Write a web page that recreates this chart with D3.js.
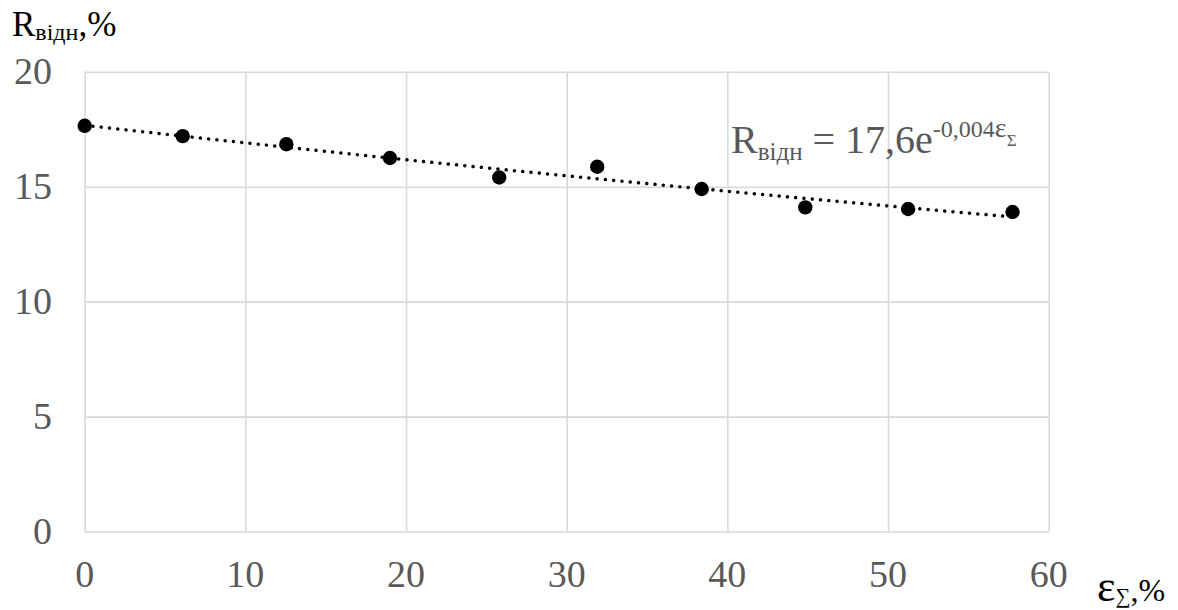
<!DOCTYPE html>
<html><head><meta charset="utf-8">
<script src="https://cdn.jsdelivr.net/npm/d3@7"></script>
<style>body{margin:0;background:#fff}svg{display:block}</style>
</head><body><svg id="c" width="1178" height="610" font-family="'Liberation Serif', 'Times New Roman', 'DejaVu Serif', serif"></svg>
<script>
const strainX = [0, 6.1, 12.55, 19.0, 25.8, 31.9, 38.4, 44.85, 51.25, 57.75];
const rValues = [17.65, 17.2, 16.85, 16.25, 15.4, 15.87, 14.9, 14.1, 14.03, 13.9];
const xTicks = [0, 10, 20, 30, 40, 50, 60];
const yTicks = [0, 5, 10, 15, 20];

const FONT = "'Liberation Serif', 'Times New Roman', 'DejaVu Serif', serif";
const svg = d3.select("#c");
const L = 84.7, R = 1048.7, T = 71.8, B = 531.5;
const x = d3.scaleLinear().domain([0, 60]).range([L, R]);
const y = d3.scaleLinear().domain([0, 20]).range([B, T]);
const grid = "#d9d9d9", lab = "#595959";

// gridlines
svg.append("g").attr("transform", `translate(0,${B})`)
  .call(d3.axisBottom(x).tickValues(xTicks).tickSize(-(B - T)).tickFormat(""))
  .call(g => g.select(".domain").remove())
  .call(g => g.selectAll("line").attr("stroke", grid).attr("stroke-width", 1.6));
svg.append("g").attr("transform", `translate(${L},0)`)
  .call(d3.axisLeft(y).tickValues(yTicks).tickSize(-(R - L)).tickFormat(""))
  .call(g => g.select(".domain").remove())
  .call(g => g.selectAll("line").attr("stroke", grid).attr("stroke-width", 1.6));

// tick labels
svg.append("g").selectAll("text").data(xTicks).join("text")
  .attr("font-family", FONT)
  .attr("x", d => x(d)).attr("y", 587).attr("text-anchor", "middle")
  .attr("font-size", 38).attr("fill", lab).text(d => d);
svg.append("g").selectAll("text").data(yTicks).join("text")
  .attr("font-family", FONT)
  .attr("x", 52).attr("y", d => y(d) + 12.5).attr("text-anchor", "end")
  .attr("font-size", 38).attr("fill", lab).text(d => d);

// exponential trend fit (least squares on ln y)
const n = strainX.length;
const ly = rValues.map(Math.log);
const mx = d3.mean(strainX), my = d3.mean(ly);
const b = d3.sum(strainX.map((v, i) => (v - mx) * (ly[i] - my))) / d3.sum(strainX.map(v => (v - mx) ** 2));
const a = Math.exp(my - b * mx);
const xs = d3.range(0, 200).map(i => strainX[0] + (strainX[n - 1] - strainX[0]) * i / 199);
svg.append("path")
  .attr("d", d3.line().x(d => x(d)).y(d => y(a * Math.exp(b * d)))(xs))
  .attr("fill", "none").attr("stroke", "#000").attr("stroke-width", 3.5)
  .attr("stroke-linecap", "round").attr("stroke-dasharray", "0.01 8.3");

// points
svg.append("g").selectAll("circle").data(strainX).join("circle")
  .attr("cx", d => x(d)).attr("cy", (d, i) => y(rValues[i])).attr("r", 7.2).attr("fill", "#000");

// y axis title
const yt = svg.append("text").attr("font-family", FONT).attr("x", 12).attr("y", 36).attr("fill", "#000");
yt.append("tspan").attr("font-size", 35).text("R");
yt.append("tspan").attr("font-size", 24).attr("dy", 4).text("відн");
yt.append("tspan").attr("font-size", 35).attr("dy", -4).text(",%");

// x axis title
const xt = svg.append("text").attr("font-family", FONT).attr("x", 1097).attr("y", 601).attr("fill", "#000");
xt.append("tspan").attr("font-size", 44).text("ε");
xt.append("tspan").attr("font-size", 21).attr("dy", 2).text("∑");
xt.append("tspan").attr("font-size", 32).attr("dy", -2).text(",%");

// equation
const eq = svg.append("text").attr("font-family", FONT).attr("x", 731).attr("y", 153).attr("fill", lab);
eq.append("tspan").attr("font-size", 40).text("R");
eq.append("tspan").attr("font-size", 25).attr("dy", 7).text("відн");
eq.append("tspan").attr("font-size", 40).attr("dy", -7).text(" = 17,6e");
eq.append("tspan").attr("font-size", 24).attr("dy", -16).text("-0,004");
eq.append("tspan").attr("font-size", 28).text("ε");
eq.append("tspan").attr("font-size", 17).attr("dy", 9).text("Σ");
</script></body></html>
